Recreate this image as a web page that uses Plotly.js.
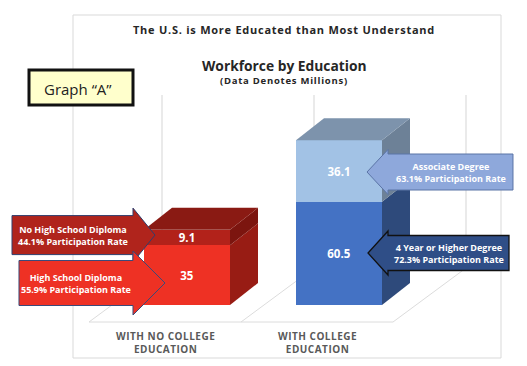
<!DOCTYPE html>
<html><head><meta charset="utf-8">
<script src="https://cdn.plot.ly/plotly-3.0.1.min.js"></script>
<style>html,body{margin:0;padding:0;background:#fff;}#chart{width:527px;height:366px;}</style>
</head><body><div id="chart"></div>
<script>
// ---------- DATA ----------
const categories = ['WITH NO COLLEGE<br>EDUCATION', 'WITH COLLEGE<br>EDUCATION'];
const baseValues = [35, 60.5];          // High School Diploma / 4 Year or Higher Degree
const topValues = [9.1, 36.1];          // No High School Diploma / Associate Degree
const baseNames = ['High School Diploma', '4 Year or Higher Degree'];
const baseRates = ['55.9% Participation Rate', '72.3% Participation Rate'];
const topNames = ['No High School Diploma', 'Associate Degree'];
const topRates = ['44.1% Participation Rate', '63.1% Participation Rate'];
const chartTitle = 'The U.S. is More Educated than Most Understand';
const chartSubTitle = 'Workforce by Education';
const chartNote = '(Data Denotes Millions)';
const graphTag = 'Graph \u201CA\u201D';

// ---------- GEOMETRY / STYLE ----------
const W = 527, H = 366;
const X0 = 187, SX = 152;     // pixel of x=0, pixels per category
const Y0 = 305, SY = 1.705;   // pixel of y=0, pixels per unit
const px2x = p => (p - X0) / SX;
const py2y = p => (Y0 - p) / SY;
const dxX = 28 / SX, dyY = 22 / SY;   // 3D depth offsets
const barW = 86 / SX, hw = barW / 2;
const xs = categories.map((c, i) => i);
const spaced = (t, ls) => '<span style="letter-spacing:' + ls + 'px">' + t + '</span>';

const baseFront = ['#EE3124', '#4472C4'];
const baseSide  = ['#981C14', '#2E4A7B'];
const topFront  = ['#B2221A', '#A2C2E5'];
const topSide   = ['#7C150F', '#6D8197'];
const topFace   = ['#8A1A13', '#7D93AC'];

const traces = [];
// side & top faces
xs.forEach((x, i) => {
  const r = x + hw, l = x - hw;
  const b0 = 0, b1 = baseValues[i], t1 = baseValues[i] + topValues[i];
  const poly = (pts, col) => traces.push({
    type: 'scatter', mode: 'lines', fill: 'toself', fillcolor: col,
    x: pts.map(p => p[0]), y: pts.map(p => p[1]),
    line: {width: 0, color: col}, hoverinfo: 'skip', showlegend: false
  });
  poly([[r, b0], [r + dxX, b0 + dyY], [r + dxX, b1 + dyY], [r, b1], [r, b0]], baseSide[i]);
  poly([[r, b1], [r + dxX, b1 + dyY], [r + dxX, t1 + dyY], [r, t1], [r, b1]], topSide[i]);
  poly([[l, t1], [l + dxX, t1 + dyY], [r + dxX, t1 + dyY], [r, t1], [l, t1]], topFace[i]);
});
// front faces (stacked bars)
const valueFont = {color: '#ffffff', size: 11.5, family: 'Open Sans', weight: 'bold'};
traces.unshift({
  type: 'bar', x: xs, y: baseValues, width: barW,
  marker: {color: baseFront, line: {width: 0}},
  text: baseValues.map(String), textposition: 'inside', insidetextanchor: 'middle',
  textangle: 0, constraintext: 'none', textfont: valueFont,
  hoverinfo: 'skip', showlegend: false
}, {
  type: 'bar', x: xs, y: topValues, width: barW,
  marker: {color: topFront, line: {width: 0}},
  text: topValues.map(String), textposition: 'inside', insidetextanchor: 'middle',
  textangle: 0, constraintext: 'none', textfont: valueFont,
  hoverinfo: 'skip', showlegend: false
});

// ---------- SHAPES ----------
const shapes = [];
const grid = '#dcdcdc';
// chart border
shapes.push({type: 'rect', xref: 'paper', yref: 'paper', x0: 73 / W, x1: 501 / W, y0: 1 - 358 / H, y1: 1 - 15 / H,
  line: {color: '#d9d9d9', width: 1}, layer: 'below'});
// floor & back wall
const floorY = py2y(322), floorLeft = px2x(89);
const depthX = 73 / SX, depthY = 54 / SY, wallTop = py2y(95);
shapes.push({type: 'line', xref: 'x', yref: 'y', x0: floorLeft, x1: floorLeft + categories.length, y0: floorY, y1: floorY,
  line: {color: grid, width: 1}, layer: 'below'});
for (let j = 0; j <= categories.length; j++) {
  const fx = floorLeft + j;
  shapes.push({type: 'line', xref: 'x', yref: 'y', x0: fx, x1: fx + depthX, y0: floorY, y1: floorY + depthY,
    line: {color: grid, width: 1}, layer: 'below'});
  shapes.push({type: 'line', xref: 'x', yref: 'y', x0: fx + depthX, x1: fx + depthX, y0: floorY + depthY, y1: wallTop,
    line: {color: grid, width: 1.2}, layer: 'below'});
}
// Graph "A" tag box
shapes.push({type: 'rect', xref: 'paper', yref: 'paper', x0: 29 / W, x1: 133 / W, y0: 1 - 105 / H, y1: 1 - 70 / H,
  fillcolor: '#FFFFCC', line: {color: '#111111', width: 3}, layer: 'above'});

// callout arrows
const arrows = [
  {cat: 0, tipOff: 11, tipV: 41.0, dir: 1, headLen: 22, headHalf: 27, bodyLen: 121, bodyHalf: 19.5, fill: '#B0241C', line: '#2F3E6E', lw: 1, name: topNames[0], rate: topRates[0]},
  {cat: 0, tipOff: 21, tipV: 12.9, dir: 1, headLen: 32, headHalf: 32, bodyLen: 114, bodyHalf: 22.5, fill: '#EE3124', line: '#3A4A7A', lw: 1, name: baseNames[0], rate: baseRates[0]},
  {cat: 1, tipOff: 15, tipV: 78.0, dir: -1, headLen: 21, headHalf: 22.5, bodyLen: 125, bodyHalf: 18, fill: '#8EA8DB', line: '#5B74A6', lw: 1, name: topNames[1], rate: topRates[1]},
  {cat: 1, tipOff: 14, tipV: 30.5, dir: -1, headLen: 20, headHalf: 22, bodyLen: 121, bodyHalf: 17.5, fill: '#2F4E87', line: '#111111', lw: 1.3, name: baseNames[1], rate: baseRates[1]}
];
const annotations = [];
arrows.forEach(a => {
  const edgePx = X0 + a.cat * SX + (a.dir > 0 ? -1 : 1) * 43;
  const tx = edgePx + a.dir * a.tipOff;
  const ty = Y0 - a.tipV * SY;
  const hx = tx - a.dir * a.headLen, tail = hx - a.dir * a.bodyLen;
  const pts = [[tail, ty - a.bodyHalf], [hx, ty - a.bodyHalf], [hx, ty - a.headHalf], [tx, ty],
    [hx, ty + a.headHalf], [hx, ty + a.bodyHalf], [tail, ty + a.bodyHalf]];
  const path = 'M' + pts.map(p => px2x(p[0]).toFixed(4) + ',' + py2y(p[1]).toFixed(4)).join(' L') + ' Z';
  shapes.push({type: 'path', xref: 'x', yref: 'y', path: path, fillcolor: a.fill, line: {color: a.line, width: a.lw}, layer: 'above'});
  annotations.push({xref: 'x', yref: 'y', x: px2x((tail + hx) / 2), y: py2y(ty), text: a.name + '<br>' + a.rate,
    showarrow: false, xanchor: 'center', yanchor: 'middle', align: 'center',
    font: {color: '#ffffff', size: 9, family: 'Open Sans', weight: 'bold'}});
});

// titles
const pa = (txt, px, py, size, opts) => annotations.push(Object.assign({xref: 'paper', yref: 'paper', x: px / W, y: 1 - py / H,
  text: txt, showarrow: false, xanchor: 'center', yanchor: 'middle',
  font: {family: 'Open Sans', size: size, color: '#262626', weight: 'bold'}}, opts || {}));
pa(spaced(chartTitle, 0.75), 284, 30, 11);
pa(chartSubTitle, 284, 66, 13.8);
pa(spaced(chartNote, 0.75), 284, 80, 9.5);
pa(graphTag, 78, 89, 15, {font: {family: 'Open Sans', size: 15, color: '#222222'}});
// category labels
xs.forEach((x, i) => annotations.push({xref: 'x', yref: 'y', x: floorLeft + i + 0.5, y: py2y(342.5),
  text: categories[i].split('<br>').map(s => spaced(s, 0.5)).join('<br>'),
  showarrow: false, xanchor: 'center', yanchor: 'middle', align: 'center',
  font: {family: 'Open Sans', size: 10, color: '#595959', weight: 'bold'}}));

const layout = {
  width: W, height: H, margin: {l: 0, r: 0, t: 0, b: 0},
  paper_bgcolor: '#ffffff', plot_bgcolor: '#ffffff',
  barmode: 'stack', showlegend: false,
  xaxis: {range: [px2x(0), px2x(W)], visible: false, fixedrange: true},
  yaxis: {range: [py2y(H), py2y(0)], visible: false, fixedrange: true},
  shapes: shapes, annotations: annotations
};
Plotly.newPlot('chart', traces, layout, {displayModeBar: false, staticPlot: true});
</script></body></html>
